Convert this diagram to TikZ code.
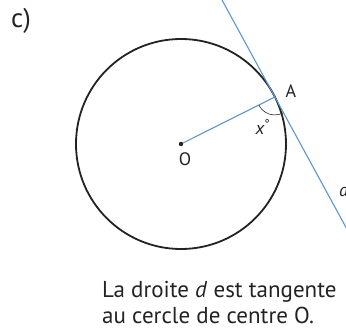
\documentclass[tikz,border=0pt]{standalone}
\usepackage{fontspec}
\setmainfont{PT Sans}
\definecolor{lineblue}{RGB}{95,150,210}
\definecolor{ink}{RGB}{35,35,35}
\tikzset{
  circ/.style={draw=ink, line width=1.8pt},
  blueline/.style={draw=lineblue, line width=1.1pt},
  lbl/.style={text=ink, inner sep=0pt, font=\fontsize{18}{20}\selectfont},
  captext/.style={text=ink, inner sep=0pt, font=\fontsize{23}{26}\selectfont, align=left}
}
\begin{document}
\begin{tikzpicture}[x=1pt,y=1pt]
\useasboundingbox (0,0) rectangle (346,330);
\clip (0,0) rectangle (346,330);
\coordinate (O) at (181,186);
\path (O) ++(26.6:105) coordinate (A);
\path (A) ++(118.6:120) coordinate (T1);
\path (A) ++(298.6:200) coordinate (T2);
% circle
\draw[circ] (O) circle[radius=105];
% tangent line d
\draw[blueline] (T1) -- (T2);
% radius OA
\draw[blueline] (O) -- (A);
% angle mark
\draw[draw=ink, line width=0.6pt] (A) ++(206.6:18) arc[start angle=206.6, end angle=298.6, radius=18];
% center dot
\fill[ink] (O) circle[radius=2.2];
% labels
\node[lbl] (lc) at (21,309) {\fontsize{27}{30}\selectfont c)};
\node[lbl] (lA) at (291,239) {A};
\node[lbl] (lO) at (185,171) {O};
\node[lbl] (lx) at (263,203) {\itshape x\textsuperscript{\upshape °}};
\node[lbl, anchor=base west] (ld) at (339,133) {\itshape d};
\node[captext, anchor=base west] (c1) at (102,33) {La droite \textit{d} est tangente};
\node[captext, anchor=base west] (c2) at (102,7) {au cercle de centre O.};
\end{tikzpicture}
\end{document}
